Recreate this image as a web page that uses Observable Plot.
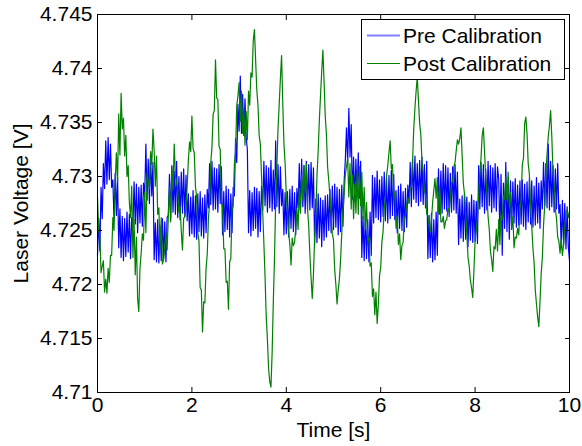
<!DOCTYPE html>
<html><head><meta charset="utf-8">
<script src="https://cdn.jsdelivr.net/npm/d3@7"></script>
<script src="https://cdn.jsdelivr.net/npm/@observablehq/plot@0.6"></script>
<style>body{margin:0;background:#fff;}</style>
</head><body><div id="chart"></div>
<script>
// Sampling interval of both series (seconds)
const timeStep = 0.025;

// Pre Calibration laser voltage [V]
const preCalibration = [
4.7227,4.7261,4.7231,4.7290,4.7261,4.7312,4.7289,4.7333,4.7293,4.7336,4.7297,4.7330,4.7290,4.7297,4.7260,4.7303,4.7264,4.7299,4.7234,4.7270,
4.7225,4.7263,4.7222,4.7261,4.7226,4.7267,4.7230,4.7265,4.7224,4.7262,4.7253,4.7295,4.7256,4.7293,4.7248,4.7290,4.7257,4.7292,4.7254,4.7294,
4.7281,4.7330,4.7278,4.7316,4.7275,4.7319,4.7282,4.7313,4.7223,4.7257,4.7221,4.7260,4.7220,4.7254,4.7222,4.7261,4.7224,4.7258,4.7221,4.7262,
4.7264,4.7302,4.7261,4.7310,4.7267,4.7305,4.7265,4.7314,4.7262,4.7300,4.7260,4.7304,4.7266,4.7307,4.7263,4.7301,4.7259,4.7284,4.7245,4.7281,
4.7247,4.7287,4.7244,4.7282,4.7242,4.7284,4.7249,4.7286,4.7245,4.7280,4.7243,4.7283,4.7248,4.7288,4.7271,4.7312,4.7274,4.7314,4.7269,4.7308,
4.7270,4.7307,4.7267,4.7311,4.7275,4.7309,4.7246,4.7286,4.7249,4.7291,4.7251,4.7288,4.7244,4.7284,4.7248,4.7290,4.7282,4.7335,4.7313,4.7367,
4.7342,4.7393,4.7340,4.7376,4.7338,4.7372,4.7336,4.7325,4.7248,4.7287,4.7245,4.7285,4.7250,4.7290,4.7252,4.7289,4.7244,4.7286,4.7249,4.7291,
4.7269,4.7314,4.7273,4.7310,4.7267,4.7308,4.7271,4.7315,4.7268,4.7306,4.7270,4.7333,4.7272,4.7311,4.7266,4.7309,4.7273,4.7288,4.7246,4.7285,
4.7247,4.7286,4.7244,4.7288,4.7252,4.7291,4.7249,4.7285,4.7246,4.7289,4.7271,4.7312,4.7269,4.7316,4.7272,4.7310,4.7266,4.7314,4.7270,4.7311,
4.7269,4.7313,4.7271,4.7308,4.7237,4.7279,4.7239,4.7284,4.7243,4.7280,4.7235,4.7278,4.7241,4.7282,4.7244,4.7283,4.7250,4.7288,4.7248,4.7291,
4.7251,4.7293,4.7253,4.7290,4.7246,4.7288,4.7249,4.7292,4.7254,4.7295,4.7315,4.7345,4.7312,4.7363,4.7318,4.7348,4.7279,4.7318,4.7277,4.7316,
4.7281,4.7322,4.7280,4.7314,4.7225,4.7263,4.7222,4.7266,4.7224,4.7260,4.7221,4.7267,4.7227,4.7301,4.7257,4.7299,4.7262,4.7305,4.7260,4.7297,
4.7258,4.7300,4.7263,4.7304,4.7259,4.7298,4.7257,4.7301,4.7261,4.7306,4.7264,4.7302,4.7260,4.7287,4.7248,4.7291,4.7252,4.7293,4.7250,4.7286,
4.7249,4.7289,4.7253,4.7292,4.7275,4.7313,4.7272,4.7316,4.7279,4.7319,4.7276,4.7312,4.7273,4.7315,4.7277,4.7318,4.7274,4.7311,4.7271,4.7314,
4.7224,4.7264,4.7225,4.7266,4.7221,4.7260,4.7223,4.7267,4.7227,4.7307,4.7265,4.7305,4.7266,4.7312,4.7270,4.7310,4.7268,4.7308,4.7263,4.7303,
4.7267,4.7309,4.7269,4.7311,4.7266,4.7304,4.7237,4.7279,4.7243,4.7282,4.7240,4.7284,4.7242,4.7281,4.7235,4.7276,4.7241,4.7283,4.7239,4.7278,
4.7240,4.7277,4.7238,4.7310,4.7270,4.7313,4.7272,4.7311,4.7266,4.7307,4.7269,4.7314,4.7273,4.7310,4.7267,4.7308,4.7271,4.7312,4.7268,4.7309,
4.7298,4.7248,4.7302,4.7227,4.7294,4.7252,4.7313,4.7249,4.7291,4.7242,4.7296,4.7251,4.7295,4.7257,4.7298,4.7253,4.7292,4.7255,4.7296,4.7256,
4.7297,4.7254,4.7293,4.7251,4.7295,4.7258,4.7298,4.7256,4.7296,4.7253,4.7291,4.7255,4.7299,4.7257,4.7294,4.7252,4.7296,4.7270,4.7313,4.7273,
4.7312,4.7271,4.7330,4.7269,4.7314,4.7272,4.7310,4.7267,4.7307,4.7270,4.7312,4.7266,4.7274,4.7234,4.7278,4.7237,4.7275,4.7233,4.7272,4.7235,
4.7222
];

// Post Calibration laser voltage [V]
const postCalibration = [
4.7281,4.7250,4.7245,4.7211,4.7217,4.7222,4.7193,4.7205,4.7192,4.7215,4.7202,4.7227,4.7227,4.7262,4.7250,4.7294,4.7322,4.7295,4.7358,4.7320,
4.7377,4.7344,4.7354,4.7319,4.7338,4.7300,4.7310,4.7276,4.7262,4.7291,4.7225,4.7260,4.7209,4.7244,4.7187,4.7175,4.7215,4.7229,4.7247,4.7241,
4.7285,4.7248,4.7303,4.7296,4.7289,4.7323,4.7311,4.7344,4.7324,4.7291,4.7319,4.7265,4.7271,4.7233,4.7262,4.7219,4.7223,4.7234,4.7248,4.7232,
4.7262,4.7290,4.7258,4.7309,4.7287,4.7330,4.7301,4.7294,4.7288,4.7267,4.7272,4.7249,4.7232,4.7261,4.7263,4.7271,4.7291,4.7315,4.7332,4.7323,
4.7356,4.7326,4.7322,4.7291,4.7281,4.7248,4.7240,4.7197,4.7195,4.7156,4.7184,4.7183,4.7215,4.7228,4.7261,4.7275,4.7313,4.7327,4.7358,4.7361,
4.7408,4.7373,4.7371,4.7328,4.7325,4.7276,4.7272,4.7233,4.7233,4.7202,4.7203,4.7177,4.7221,4.7224,4.7269,4.7273,4.7311,4.7322,4.7366,4.7374,
4.7387,4.7351,4.7379,4.7340,4.7361,4.7329,4.7360,4.7334,4.7379,4.7366,4.7396,4.7392,4.7426,4.7436,4.7408,4.7380,4.7366,4.7338,4.7330,4.7301,
4.7267,4.7238,4.7207,4.7170,4.7149,4.7122,4.7110,4.7105,4.7137,4.7184,4.7224,4.7277,4.7309,4.7345,4.7367,4.7391,4.7412,4.7368,4.7330,4.7312,
4.7282,4.7267,4.7248,4.7237,4.7218,4.7243,4.7236,4.7239,4.7252,4.7270,4.7251,4.7289,4.7266,4.7301,4.7278,4.7310,4.7285,4.7312,4.7270,4.7254,
4.7227,4.7206,4.7187,4.7209,4.7243,4.7264,4.7301,4.7323,4.7352,4.7375,4.7397,4.7417,4.7388,4.7356,4.7339,4.7309,4.7296,4.7281,4.7264,4.7247,
4.7241,4.7214,4.7200,4.7182,4.7195,4.7205,4.7223,4.7247,4.7269,4.7283,4.7302,4.7309,4.7317,4.7281,4.7312,4.7270,4.7301,4.7261,4.7293,4.7266,
4.7303,4.7265,4.7309,4.7273,4.7304,4.7261,4.7290,4.7251,4.7276,4.7240,4.7244,4.7217,4.7220,4.7189,4.7196,4.7172,4.7193,4.7164,4.7181,4.7208,
4.7216,4.7239,4.7249,4.7270,4.7281,4.7301,4.7310,4.7322,4.7333,4.7307,4.7311,4.7281,4.7286,4.7252,4.7263,4.7237,4.7247,4.7223,4.7236,4.7239,
4.7260,4.7264,4.7274,4.7280,4.7276,4.7289,4.7290,4.7314,4.7344,4.7363,4.7379,4.7392,4.7370,4.7349,4.7339,4.7313,4.7304,4.7287,4.7283,4.7265,
4.7264,4.7256,4.7249,4.7259,4.7276,4.7287,4.7298,4.7280,4.7299,4.7266,4.7290,4.7258,4.7258,4.7263,4.7252,4.7259,4.7260,4.7271,4.7267,4.7280,
4.7293,4.7296,4.7309,4.7313,4.7324,4.7334,4.7330,4.7335,4.7345,4.7320,4.7294,4.7284,4.7266,4.7246,4.7225,4.7217,4.7204,4.7197,4.7188,4.7213,
4.7241,4.7250,4.7262,4.7282,4.7303,4.7317,4.7338,4.7345,4.7323,4.7299,4.7285,4.7263,4.7251,4.7231,4.7223,4.7212,4.7235,4.7233,4.7251,4.7231,
4.7260,4.7237,4.7264,4.7260,4.7282,4.7279,4.7300,4.7278,4.7304,4.7273,4.7285,4.7252,4.7263,4.7234,4.7244,4.7243,4.7252,4.7246,4.7270,4.7278,
4.7311,4.7317,4.7349,4.7355,4.7340,4.7312,4.7302,4.7273,4.7254,4.7234,4.7220,4.7195,4.7182,4.7170,4.7161,4.7184,4.7210,4.7225,4.7255,4.7273,
4.7303,4.7321,4.7337,4.7347,4.7361,4.7337,4.7305,4.7292,4.7270,4.7261,4.7244,4.7240,4.7229,4.7242,4.7227,4.7237,4.7254,4.7267,4.7269,4.7262,
4.7268
];

const seriesNames = ["Pre Calibration", "Post Calibration"];
const seriesColors = ["#0000ff", "#008000"];
const xTicks = [0, 2, 4, 6, 8, 10];
const yTicks = [4.71, 4.715, 4.72, 4.725, 4.73, 4.735, 4.74, 4.745];
const xLabel = "Time [s]";
const yLabel = "Laser Voltage [V]";

const rows = [];
[preCalibration, postCalibration].forEach((vals, k) =>
  vals.forEach((v, i) => rows.push({t: i * timeStep, v, series: seriesNames[k]})));

const font = "'Liberation Sans', Arial, Helvetica, sans-serif";

const chart = Plot.plot({
  width: 582, height: 446,
  marginLeft: 97, marginRight: 13, marginTop: 14, marginBottom: 54,
  style: {fontFamily: font, fontSize: "21px", background: "#fff", color: "#000", overflow: "visible"},
  x: {domain: [0, 10]},
  y: {domain: [4.71, 4.745]},
  color: {domain: seriesNames, range: seriesColors.slice()},
  marks: [
    Plot.line(rows, {x: "t", y: "v", z: "series", stroke: "series", strokeWidth: 1.2}),
    Plot.frame({stroke: "#000", strokeWidth: 1}),
    Plot.axisX(xTicks, {anchor: "bottom", tickSize: -5, tickPadding: 10, label: null, tickFormat: d => String(d)}),
    Plot.axisX(xTicks, {anchor: "top", tickSize: -5, fill: "none", label: null}),
    Plot.axisY(yTicks, {anchor: "left", tickSize: -5, tickPadding: 10, label: null, tickFormat: d3.format(".4~f")}),
    Plot.axisY(yTicks, {anchor: "right", tickSize: -5, fill: "none", label: null}),
    Plot.text([xLabel], {text: d => d, frameAnchor: "bottom", dy: 38, lineAnchor: "middle", textAnchor: "middle", fontSize: 21}),
    Plot.text([yLabel], {text: d => d, frameAnchor: "left", dx: -76, rotate: -90, lineAnchor: "middle", textAnchor: "middle", fontSize: 21})
  ]
});

// Legend box (upper right, inside the axes), colours taken from the plot's colour scale
const colorScale = chart.scale("color");
const svg = d3.select(chart);
const lg = svg.append("g").attr("font-family", font).attr("font-size", 21).attr("text-anchor", "start");
lg.append("rect").attr("x", 361.5).attr("y", 19.5).attr("width", 203).attr("height", 60)
  .attr("fill", "#fff").attr("stroke", "#000").attr("stroke-width", 1);
seriesNames.forEach((name, i) => {
  const y = 35.5 + i * 28;
  lg.append("line").attr("x1", 367).attr("x2", 400).attr("y1", y).attr("y2", y)
    .attr("stroke", colorScale.apply(name)).attr("stroke-width", i === 0 ? 2 : 1)
    .attr("stroke-opacity", i === 0 ? 0.5 : 1);
  lg.append("text").attr("x", 403).attr("y", y + 7.5).attr("fill", "#000").attr("text-anchor", "start").text(name);
});

document.getElementById("chart").appendChild(chart);
</script>
</body></html>
